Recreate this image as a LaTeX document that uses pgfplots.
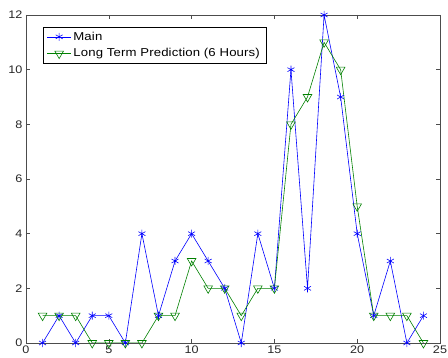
\documentclass[border=0pt]{standalone}
\usepackage{pgfplots}
\pgfplotsset{compat=1.18}
\usepackage{fontspec}
\setmainfont{Liberation Sans}[FakeStretch=1.15]
\definecolor{mblue}{RGB}{0,0,255}
\definecolor{mgreen}{RGB}{0,128,0}
\begin{document}
\begin{tikzpicture}
\useasboundingbox (-26bp,-15bp) rectangle (422bp,343bp);
\begin{axis}[
  at={(0,0)}, anchor=south west,
  scale only axis,
  width=414bp, height=328bp,
  xmin=0, xmax=25, ymin=0, ymax=12,
  xtick={0,5,...,25}, ytick={0,2,...,12},
  tick align=inside, tick pos=both,
  major tick length=4bp,
  /pgf/number format/assume math mode=true,
  tick label style={font=\fontsize{11}{13}\selectfont, text=black!85},
  xticklabel style={yshift=1bp},
  axis line style={black!70},
  every tick/.style={black!70},
  legend style={at={(0.0403,0.963)}, anchor=north west, font=\fontsize{11.5}{13}\selectfont\addfontfeature{LetterSpace=1.2}, draw=black, line width=0.6pt, inner xsep=4pt, inner ysep=2.5pt, row sep=3pt},
  legend cell align=left,
  legend image code/.code={\draw[mark repeat=2,mark phase=2] plot coordinates {(0cm,0cm) (0.42cm,0cm) (0.84cm,0cm)};},
]
\addplot[mblue, mark=asterisk, mark size=4bp, line width=0.6pt] coordinates {
(1,0)(2,1)(3,0)(4,1)(5,1)(6,0)(7,4)(8,1)(9,3)(10,4)(11,3)(12,2)(13,0)(14,4)(15,2)(16,10)(17,2)(18,12)(19,9)(20,4)(21,1)(22,3)(23,0)(24,1)};
\addlegendentry{Main}
\addplot[mgreen, mark=triangle, mark options={rotate=180}, mark size=5bp, line width=0.6pt] coordinates {
(1,1)(2,1)(3,1)(4,0)(5,0)(6,0)(7,0)(8,1)(9,1)(10,3)(11,2)(12,2)(13,1)(14,2)(15,2)(16,8)(17,9)(18,11)(19,10)(20,5)(21,1)(22,1)(23,1)(24,0)};
\addlegendentry{Long Term Prediction (6 Hours)}
\end{axis}
\end{tikzpicture}
\end{document}
